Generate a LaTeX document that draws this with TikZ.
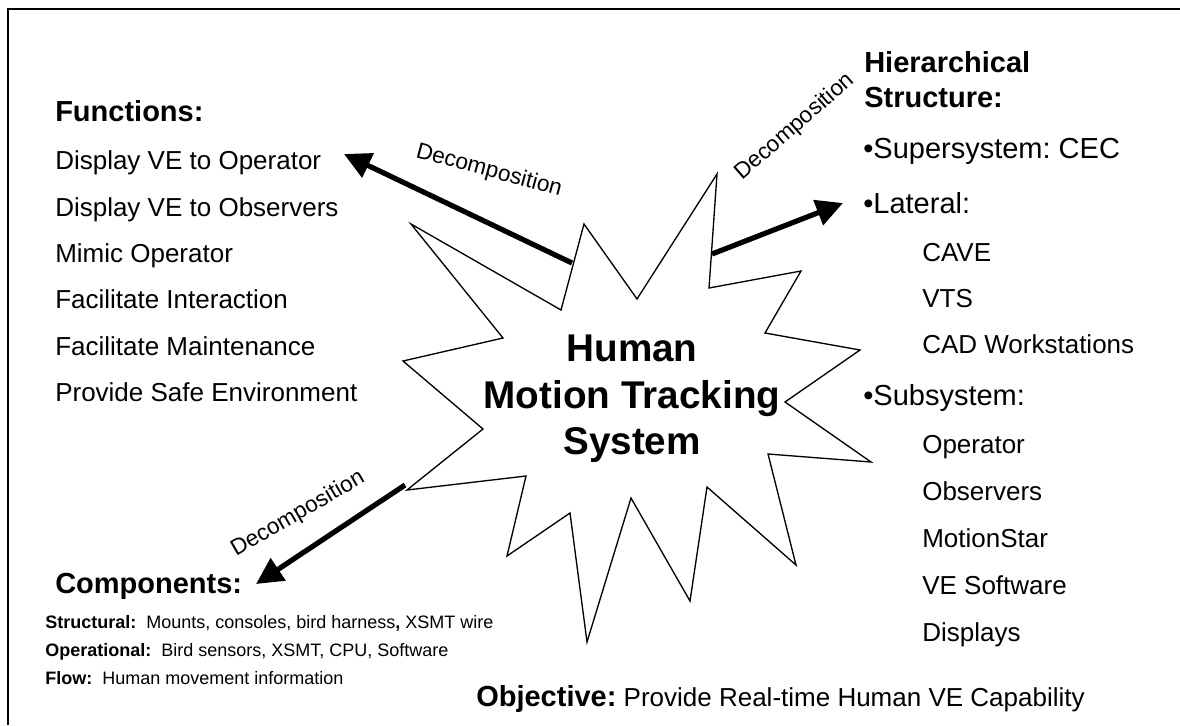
\documentclass[tikz,border=0pt]{standalone}
\usepackage{fontspec}
\setmainfont{Liberation Sans}
\usetikzlibrary{arrows.meta}
\frenchspacing
\begin{document}
\begin{tikzpicture}[x=0.75pt,y=-0.75pt,
  hd/.style={font=\fontsize{21.75}{26}\selectfont\bfseries, anchor=base west, inner sep=0pt},
  itm/.style={font=\fontsize{19.5}{23}\selectfont, anchor=base west, inner sep=0pt},
  bul/.style={font=\fontsize{21.75}{26}\selectfont, anchor=base west, inner sep=0pt},
  sml/.style={font=\fontsize{13.5}{16}\selectfont, anchor=base west, inner sep=0pt},
  dec/.style={font=\fontsize{17}{20}\selectfont, inner sep=0pt},
  arr/.style={line width=3.9pt, -{Triangle[length=20pt,width=19.5pt]}},
  burst/.style={draw=black, line width=1pt, line join=miter, fill=white}]
\useasboundingbox (0,0) rectangle (1180,725);
% frame (only top and left edges visible)
\draw[line width=1.5pt] (8,725) -- (8,9) -- (1180,9);

% starburst
\draw[burst] (584,224) -- (637,299) -- (717,174) -- (709,288) -- (801,271) -- (765,333)
  -- (860,350) -- (785,402) -- (871,462) -- (768,454) -- (796,565) -- (707,487)
  -- (690,601) -- (631,498) -- (587,642) -- (570,513) -- (507,556) -- (526,476)
  -- (407,490) -- (483,429) -- (403,361) -- (503,338) -- (411,224) -- (561,310) -- cycle;
\node[font=\fontsize{29}{35}\selectfont\bfseries, align=center, inner sep=0pt] (core) at (632,399)
  {Human\\Motion Tracking\\System};

% arrows
\coordinate (tUL) at (572,263);
\coordinate (hUL) at (344,154);
\coordinate (tUR) at (712,254);
\coordinate (hUR) at (843,203);
\coordinate (tLL) at (405,485);
\coordinate (hLL) at (256,584);
\draw[arr] (tUL) -- (hUL);
\draw[arr] (tUR) -- (hUR);
\draw[arr] (tLL) -- (hLL);
\node[dec, rotate=-15] (dUL) at (489,171) {Decomposition};
\node[dec, rotate=41] (dUR) at (795,127) {Decomposition};
\node[dec, rotate=30] (dLL) at (298,514) {Decomposition};

% functions
\node[hd] (fh) at (55,121) {Functions:};
\node[itm] (f1) at (55,169) {Display VE to Operator};
\node[itm] (f2) at (55,216) {Display VE to Observers};
\node[itm] (f3) at (55,262) {Mimic Operator};
\node[itm] (f4) at (55,308) {Facilitate Interaction};
\node[itm] (f5) at (55,355) {Facilitate Maintenance};
\node[itm] (f6) at (55,401) {Provide Safe Environment};

% hierarchical structure
\node[hd] (hh1) at (864,72) {Hierarchical};
\node[hd] (hh2) at (864,107) {Structure:};
\node[bul] (h1) at (863,158) {•Supersystem: CEC};
\node[bul] (h2) at (863,213) {•Lateral:};
\node[itm] (h3) at (922,261) {CAVE};
\node[itm] (h4) at (922,307) {VTS};
\node[itm] (h5) at (922,353) {CAD Workstations};
\node[bul] (h6) at (863,405) {•Subsystem:};
\node[itm] (h7) at (922,453) {Operator};
\node[itm] (h8) at (922,500) {Observers};
\node[itm] (h9) at (922,547) {MotionStar};
\node[itm] (h10) at (922,594) {VE Software};
\node[itm] (h11) at (922,641) {Displays};

% components
\node[hd] (ch) at (55,593) {Components:};
\node[sml] (c1) at (45,628) {\textbf{Structural:}\ \ Mounts, consoles, bird harness\textbf{,} XSMT wire};
\node[sml] (c2) at (45,656) {\textbf{Operational:}\ \ Bird sensors, XSMT, CPU, Software};
\node[sml] (c3) at (45,684) {\textbf{Flow:}\ \ Human movement information};

% objective
\node[itm] (obj) at (476,706) {{\fontsize{21.75}{26}\selectfont\bfseries Objective:} Provide Real-time Human VE Capability};
\end{tikzpicture}
\end{document}
